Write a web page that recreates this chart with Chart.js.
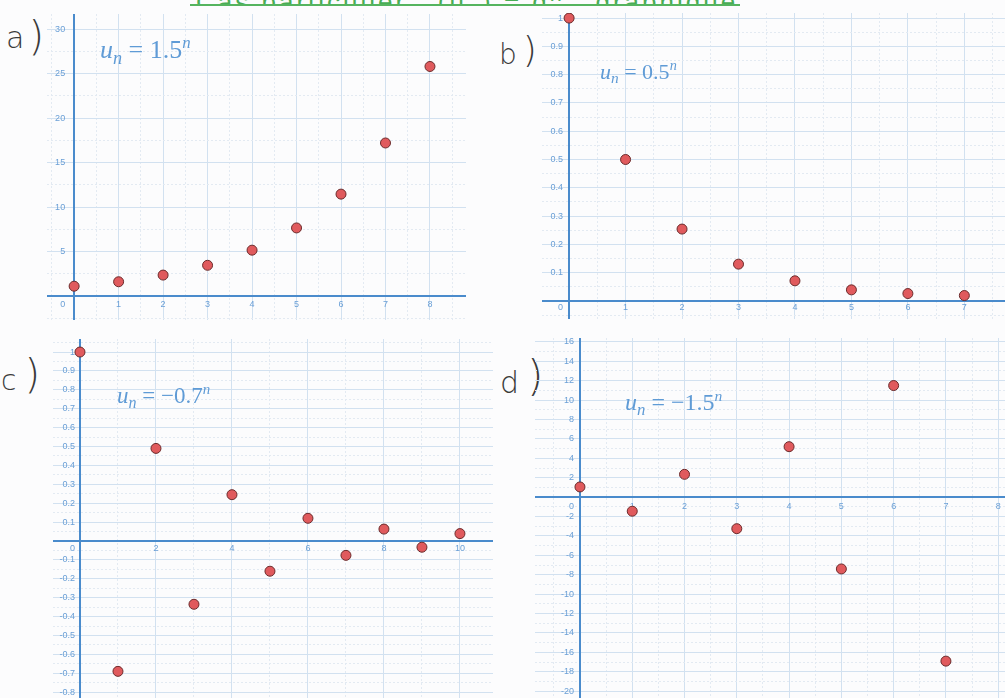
<!DOCTYPE html>
<html>
<head>
<meta charset="utf-8">
<script src="https://cdn.jsdelivr.net/npm/chart.js@4.4.0/dist/chart.umd.min.js"></script>
<style>
  body { margin: 0; width: 1005px; height: 698px; overflow: hidden; background: #fcfcfd; position: relative; }
  canvas, .fm, .hw, .title { position: absolute; }
  .fm { font-family: "Liberation Serif", "DejaVu Serif", serif; color: #5f9bd6; line-height: 1; white-space: nowrap; }
  .fm sub { font-size: 70%; vertical-align: -0.3em; }
  .fm sup { font-size: 65%; vertical-align: 0.6em; }
  .hw { font-family: "DejaVu Sans", sans-serif; font-weight: 200; color: #3a3a3a; line-height: 1; }
  .title { left: 190px; top: 0; width: 550px; height: 4px; overflow: hidden; border-bottom: 2px solid #55b45f; }
  .title span { position: absolute; left: 6px; top: -19px; font-family: "Liberation Sans", sans-serif; font-size: 26px;
                line-height: 26px; color: #49ad55; white-space: nowrap; letter-spacing: 3px; }
</style>
</head>
<body>
<div class="title"><span>Cas particulier : (u<sub>n</sub>) = q<sup>n</sup> , graphique</span></div>

<div class="hw" style="left:6px;top:14px;font-size:30px;">a<span style="font-size:40px;position:relative;top:2px;margin-left:4px">)</span></div>
<div class="hw" style="left:499px;top:34px;font-size:28px;">b<span style="font-size:36px;position:relative;top:-2px;margin-left:6px">)</span></div>
<div class="hw" style="left:1px;top:356px;font-size:28px;">c<span style="font-size:40px;position:relative;top:-2px;margin-left:8px">)</span></div>
<div class="hw" style="left:500px;top:358px;font-size:30px;">d<span style="font-size:42px;position:relative;top:-2px;margin-left:8px">)</span></div>

<canvas id="chartA" width="419" height="306" style="left:47px;top:14px"></canvas>
<canvas id="chartB" width="463" height="306" style="left:542px;top:13px"></canvas>
<canvas id="chartC" width="440" height="359" style="left:53px;top:339px"></canvas>
<canvas id="chartD" width="470" height="360" style="left:535px;top:338px"></canvas>

<div class="fm" style="left:100px;top:35px;font-size:26px;"><i>u</i><sub><i>n</i></sub> = 1.5<sup><i>n</i></sup></div>
<div class="fm" style="left:600px;top:58px;font-size:22px;"><i>u</i><sub><i>n</i></sub> = 0.5<sup><i>n</i></sup></div>
<div class="fm" style="left:117px;top:382px;font-size:23px;"><i>u</i><sub><i>n</i></sub> = −0.7<sup><i>n</i></sup></div>
<div class="fm" style="left:625px;top:388px;font-size:24px;"><i>u</i><sub><i>n</i></sub> = −1.5<sup><i>n</i></sup></div>

<script>
const rangsA = [0, 1, 2, 3, 4, 5, 6, 7, 8];
const valeursA = [1.1, 1.6, 2.35, 3.45, 5.15, 7.65, 11.45, 17.2, 25.8];
const xLabelsA = [1, 2, 3, 4, 5, 6, 7, 8];
const yLabelsA = [5, 10, 15, 20, 25, 30];

const rangsB = [0, 1, 2, 3, 4, 5, 6, 7];
const valeursB = [1, 0.5, 0.254, 0.13, 0.071, 0.039, 0.026, 0.019];
const xLabelsB = [1, 2, 3, 4, 5, 6, 7];
const yLabelsB = [0.1, 0.2, 0.3, 0.4, 0.5, 0.6, 0.7, 0.8, 0.9, 1];

const rangsC = [0, 1, 2, 3, 4, 5, 6, 7, 8, 9, 10];
const valeursC = [1, -0.69, 0.49, -0.335, 0.245, -0.16, 0.12, -0.076, 0.063, -0.033, 0.039];
const xLabelsC = [2, 4, 6, 8, 10];
const yLabelsC = [-0.8, -0.7, -0.6, -0.5, -0.4, -0.3, -0.2, -0.1, 0.1, 0.2, 0.3, 0.4, 0.5, 0.6, 0.7, 0.8, 0.9, 1];

const rangsD = [0, 1, 2, 3, 4, 5, 6, 7];
const valeursD = [1.05, -1.45, 2.35, -3.25, 5.2, -7.4, 11.5, -16.9];
const xLabelsD = [1, 2, 3, 4, 5, 6, 7, 8];
const yLabelsD = [-20, -18, -16, -14, -12, -10, -8, -6, -4, -2, 2, 4, 6, 8, 10, 12, 14, 16];

const axeCouleur = "#4a8bcc";
const texteCouleur = "#6a9fd6";

// lignes de la grille : principales et secondaires (pointillées)
function grille(min, max, pas, principal) {
    const ticks = [];
    for (let k = Math.ceil(min / pas); k * pas <= max; k++) {
        const v = +(k * pas).toFixed(6);
        const r = Math.abs(v / principal - Math.round(v / principal));
        ticks.push({ value: v, minor: r > 1e-6 });
    }
    return ticks;
}

// dessine les étiquettes à côté des axes qui se croisent en l'origine
const etiquettes = {
    id: "etiquettes",
    beforeDatasetsDraw(chart, args, opts) {
        const { ctx, scales: { x, y } } = chart;
        const ox = x.getPixelForValue(0);
        const oy = y.getPixelForValue(0);
        ctx.save();
        ctx.font = "9px 'Liberation Sans', Arial, sans-serif";
        ctx.fillStyle = texteCouleur;
        ctx.textBaseline = "middle";
        ctx.textAlign = "center";
        opts.xLabels.forEach(v => ctx.fillText(String(v), x.getPixelForValue(v), oy + opts.dx));
        ctx.textAlign = "right";
        opts.yLabels.forEach(v => ctx.fillText(String(v), ox - opts.dy, y.getPixelForValue(v)));
        ctx.fillText("0", ox - opts.dy, oy + opts.dx);
        ctx.restore();
    }
};

function graphique(id, rangs, valeurs, xLabels, yLabels, lim) {
    const scale = (min, max, pas, principal, pos) => ({
        type: "linear",
        min: min,
        max: max,
        position: pos,
        afterBuildTicks: s => { s.ticks = grille(min, max, pas, principal); },
        ticks: { display: false },
        grid: {
            drawTicks: false,
            lineWidth: 1,
            color: c => (c.tick && c.tick.minor) ? "#e3eaf2" : "#d2e1f0"
        },
        border: {
            color: axeCouleur,
            width: 2,
            dash: c => (c.tick && c.tick.minor) ? [2, 2] : []
        }
    });

    new Chart(document.getElementById(id), {
        type: "scatter",
        data: {
            datasets: [{
                data: rangs.map((n, i) => ({ x: n, y: valeurs[i] })),
                backgroundColor: "#e05a5d",
                borderColor: "#6b2b2b",
                borderWidth: 1,
                pointRadius: 5,
                clip: false
            }]
        },
        options: {
            responsive: false,
            animation: false,
            events: [],
            layout: { padding: 0, autoPadding: false },
            plugins: {
                legend: { display: false },
                tooltip: { enabled: false },
                etiquettes: { xLabels: xLabels, yLabels: yLabels, dx: lim.dx, dy: lim.dy }
            },
            scales: {
                x: scale(lim.x[0], lim.x[1], lim.x[2], lim.x[3], { y: 0 }),
                y: scale(lim.y[0], lim.y[1], lim.y[2], lim.y[3], { x: 0 })
            }
        },
        plugins: [etiquettes]
    });
}

graphique("chartA", rangsA, valeursA, xLabelsA, yLabelsA,
    { x: [-0.61, 8.81, 0.5, 1], y: [-2.7, 31.7, 2.5, 5], dx: 9, dy: 9 });
graphique("chartB", rangsB, valeursB, xLabelsB, yLabelsB,
    { x: [-0.48, 7.72, 0.5, 1], y: [-0.064, 1.018, 0.05, 0.1], dx: 7, dy: 6 });
graphique("chartC", rangsC, valeursC, xLabelsC, yLabelsC,
    { x: [-0.71, 10.87, 1, 2], y: [-0.831, 1.069, 0.05, 0.1], dx: 8, dy: 5 });
graphique("chartD", rangsD, valeursD, xLabelsD, yLabelsD,
    { x: [-0.86, 8.13, 0.5, 1], y: [-20.7, 16.4, 1, 2], dx: 9, dy: 6 });
</script>
</body>
</html>
